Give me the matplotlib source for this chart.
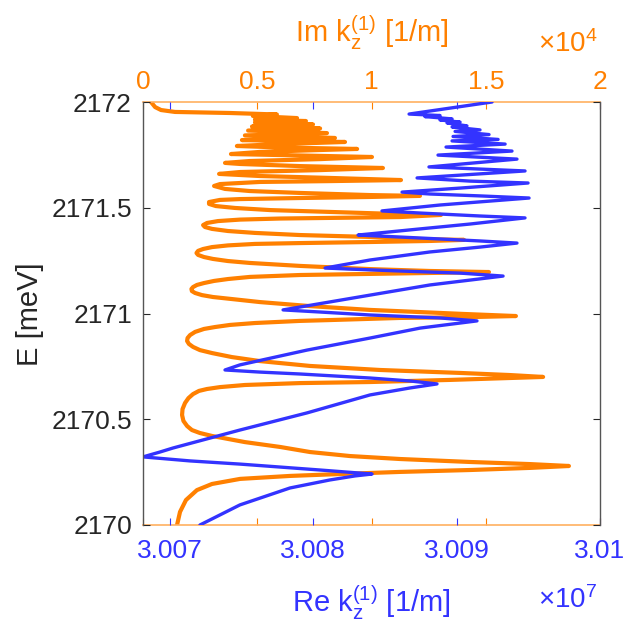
import matplotlib
matplotlib.use('Agg')
import matplotlib.pyplot as plt

# ---------------- data ----------------
# Orange curve: (E [meV], Im k_z^(1) [1e4 1/m])
orange_points = [
    (2170.000, 0.149), (2170.062, 0.162), (2170.118, 0.188), (2170.165, 0.236),
    (2170.194, 0.302), (2170.218, 0.425), (2170.232, 0.643), (2170.241, 0.862),
    (2170.251, 1.125), (2170.260, 1.431), (2170.270, 1.694), (2170.279, 1.864),
    (2170.288, 1.694), (2170.298, 1.431), (2170.312, 1.125), (2170.326, 0.906),
    (2170.345, 0.731), (2170.369, 0.600), (2170.392, 0.446), (2170.407, 0.372),
    (2170.421, 0.302), (2170.435, 0.249), (2170.449, 0.214), (2170.468, 0.193),
    (2170.492, 0.177), (2170.520, 0.171), (2170.548, 0.173), (2170.577, 0.184),
    (2170.600, 0.199), (2170.619, 0.219), (2170.634, 0.245), (2170.643, 0.280),
    (2170.652, 0.337), (2170.662, 0.446), (2170.671, 0.687), (2170.676, 0.993),
    (2170.686, 1.344), (2170.695, 1.606), (2170.700, 1.751), (2170.709, 1.606),
    (2170.719, 1.387), (2170.733, 1.037), (2170.752, 0.731), (2170.775, 0.512),
    (2170.794, 0.389), (2170.813, 0.302), (2170.827, 0.249), (2170.842, 0.219),
    (2170.856, 0.201), (2170.870, 0.193), (2170.884, 0.195), (2170.898, 0.206),
    (2170.913, 0.228), (2170.927, 0.267), (2170.936, 0.315), (2170.946, 0.381),
    (2170.955, 0.490), (2170.965, 0.687), (2170.969, 0.818), (2170.979, 1.125),
    (2170.983, 1.431), (2170.988, 1.632), (2170.998, 1.400), (2171.017, 0.993),
    (2171.035, 0.731), (2171.054, 0.512), (2171.069, 0.381), (2171.078, 0.306),
    (2171.087, 0.258), (2171.097, 0.228), (2171.106, 0.214), (2171.116, 0.212),
    (2171.125, 0.219), (2171.135, 0.236), (2171.144, 0.267), (2171.154, 0.311),
    (2171.163, 0.372), (2171.173, 0.468), (2171.182, 0.687), (2171.187, 0.993),
    (2171.191, 1.256), (2171.196, 1.514), (2171.201, 1.256), (2171.210, 0.993),
    (2171.225, 0.687), (2171.239, 0.468), (2171.248, 0.372), (2171.258, 0.306),
    (2171.267, 0.267), (2171.277, 0.241), (2171.286, 0.234), (2171.296, 0.241),
    (2171.305, 0.263), (2171.314, 0.302), (2171.322, 0.372), (2171.329, 0.490),
    (2171.333, 0.687), (2171.338, 0.993), (2171.343, 1.256), (2171.348, 1.405),
    (2171.352, 1.212), (2171.362, 0.993), (2171.371, 0.687), (2171.381, 0.490),
    (2171.390, 0.372), (2171.400, 0.302), (2171.409, 0.271), (2171.418, 0.263),
    (2171.428, 0.280), (2171.437, 0.328), (2171.444, 0.425), (2171.449, 0.600),
    (2171.452, 0.818), (2171.456, 1.125), (2171.466, 1.304), (2171.470, 1.125),
    (2171.480, 0.818), (2171.489, 0.556), (2171.499, 0.403), (2171.508, 0.319),
    (2171.518, 0.289), (2171.527, 0.289), (2171.537, 0.337), (2171.541, 0.425),
    (2171.546, 0.687), (2171.551, 0.993), (2171.556, 1.212), (2171.560, 0.993),
    (2171.570, 0.687), (2171.579, 0.468), (2171.589, 0.359), (2171.603, 0.311),
    (2171.612, 0.337), (2171.622, 0.512), (2171.626, 0.818), (2171.631, 1.129),
    (2171.641, 0.818), (2171.650, 0.512), (2171.660, 0.333), (2171.669, 0.425),
    (2171.678, 0.775), (2171.688, 1.050), (2171.697, 0.687), (2171.707, 0.425),
    (2171.712, 0.359), (2171.721, 0.468), (2171.730, 0.775), (2171.740, 1.002),
    (2171.749, 0.600), (2171.754, 0.385), (2171.764, 0.512), (2171.773, 0.775),
    (2171.778, 0.937), (2171.785, 0.600), (2171.792, 0.411), (2171.801, 0.600),
    (2171.811, 0.884), (2171.816, 0.600), (2171.820, 0.433), (2171.830, 0.840),
    (2171.842, 0.446), (2171.853, 0.805), (2171.865, 0.460), (2171.875, 0.775),
    (2171.884, 0.477), (2171.894, 0.744), (2171.903, 0.490), (2171.910, 0.713),
    (2171.917, 0.490), (2171.924, 0.674), (2171.934, 0.481), (2171.941, 0.586),
    (2171.948, 0.381), (2171.953, 0.140), (2171.962, 0.079), (2171.976, 0.053),
    (2172.000, 0.035),
]

# Blue curve: (E [meV], Re k_z^(1) [1e7 1/m])
blue_points = [
    (2170.000, 3.007209), (2170.095, 3.007488), (2170.175, 3.007837), (2170.213, 3.008116),
    (2170.232, 3.008291), (2170.241, 3.008410), (2170.260, 3.008047), (2170.274, 3.007768),
    (2170.288, 3.007488), (2170.303, 3.007140), (2170.322, 3.006812), (2170.345, 3.006930),
    (2170.364, 3.007021), (2170.449, 3.007488), (2170.530, 3.007956), (2170.615, 3.008396),
    (2170.648, 3.008675), (2170.667, 3.008863), (2170.681, 3.008675), (2170.695, 3.008396),
    (2170.714, 3.007907), (2170.723, 3.007628), (2170.733, 3.007384), (2170.757, 3.007488),
    (2170.827, 3.007956), (2170.884, 3.008396), (2170.931, 3.008745), (2170.965, 3.009142),
    (2170.979, 3.008884), (2170.993, 3.008396), (2171.007, 3.008047), (2171.017, 3.007789),
    (2171.087, 3.008396), (2171.135, 3.008814), (2171.158, 3.009093), (2171.177, 3.009324),
    (2171.191, 3.009024), (2171.201, 3.008605), (2171.210, 3.008256), (2171.215, 3.008082),
    (2171.253, 3.008396), (2171.291, 3.008814), (2171.314, 3.009163), (2171.333, 3.009421),
    (2171.343, 3.009163), (2171.357, 3.008745), (2171.366, 3.008465), (2171.371, 3.008312),
    (2171.400, 3.008745), (2171.423, 3.009093), (2171.452, 3.009477), (2171.461, 3.009163),
    (2171.475, 3.008745), (2171.485, 3.008479), (2171.513, 3.008884), (2171.546, 3.009505),
    (2171.556, 3.009163), (2171.565, 3.008814), (2171.574, 3.008619), (2171.593, 3.009024),
    (2171.617, 3.009498), (2171.626, 3.009093), (2171.641, 3.008724), (2171.674, 3.009477),
    (2171.693, 3.008807), (2171.730, 3.009421), (2171.749, 3.008870), (2171.768, 3.009386),
    (2171.787, 3.008926), (2171.801, 3.009338), (2171.816, 3.008968), (2171.823, 3.009289),
    (2171.837, 3.008975), (2171.846, 3.009226), (2171.861, 3.008989), (2171.868, 3.009163),
    (2171.882, 3.008968), (2171.887, 3.009072), (2171.901, 3.008933), (2171.905, 3.009024),
    (2171.915, 3.008884), (2171.920, 3.008968), (2171.931, 3.008779), (2171.936, 3.008884),
    (2171.943, 3.008668), (2172.000, 3.009247),
]

re_ticks = [3.007, 3.008, 3.009, 3.01]
re_ticklabels = ['3.007', '3.008', '3.009', '3.01']
im_ticks = [0, 0.5, 1, 1.5, 2]
im_ticklabels = ['0', '0.5', '1', '1.5', '2']
e_ticks = [2170, 2170.5, 2171, 2171.5, 2172]
e_ticklabels = ['2170', '2170.5', '2171', '2171.5', '2172']

orange_E = [p[0] for p in orange_points]
orange_im = [p[1] for p in orange_points]
blue_E = [p[0] for p in blue_points]
blue_re = [p[1] for p in blue_points]

# ---------------- style ----------------
plt.rcParams['font.family'] = ['Liberation Sans', 'DejaVu Sans']
plt.rcParams['mathtext.fontset'] = 'custom'
plt.rcParams['mathtext.rm'] = 'Liberation Sans'
plt.rcParams['mathtext.it'] = 'Liberation Sans:italic'
plt.rcParams['mathtext.bf'] = 'Liberation Sans:bold'

BLUE = '#3333FF'
ORANGE = '#FF8000'
DARK = '#262626'
FS = 19

W, H = 636, 628
fig = plt.figure(figsize=(W / 100, H / 100), dpi=100)
L, R, T, B = 143, 600, 102, 525
ax1 = fig.add_axes([L / W, 1 - B / H, (R - L) / W, (B - T) / H])
ax2 = ax1.twiny()
ax1.set_zorder(ax2.get_zorder() + 1)
ax1.patch.set_visible(False)

ax2.plot(orange_im, orange_E, color=ORANGE, lw=3.0, solid_joinstyle='round',
         solid_capstyle='round')
ax1.plot(blue_re, blue_E, color=BLUE, lw=2.4, solid_joinstyle='round',
         solid_capstyle='round')

ax1.set_xlim(3.006812, 3.01)
ax1.set_ylim(2170, 2172)
ax2.set_xlim(0, 2)

ax1.set_xticks(re_ticks)
ax1.set_xticklabels(re_ticklabels)
ax2.set_xticks(im_ticks)
ax2.set_xticklabels(im_ticklabels)
ax1.set_yticks(e_ticks)
ax1.set_yticklabels(e_ticklabels)

ax1.tick_params(axis='x', which='both', direction='in', top=True, bottom=True,
                labeltop=False, labelbottom=True, color=BLUE, labelcolor=BLUE,
                labelsize=FS, length=5, width=0.8, pad=10)
ax2.tick_params(axis='x', which='both', direction='in', top=True, bottom=True,
                labeltop=True, labelbottom=False, color=ORANGE, labelcolor=ORANGE,
                labelsize=FS, length=5, width=0.8, pad=6)
ax1.tick_params(axis='y', direction='in', left=True, right=True, labelleft=True,
                labelright=False, color=DARK, labelcolor=DARK, labelsize=FS,
                length=5, width=0.8, pad=8)

for s in ['top', 'bottom']:
    ax1.spines[s].set_visible(False)
    ax2.spines[s].set_color('#FFB060')
    ax2.spines[s].set_linewidth(1.2)
for s in ['left', 'right']:
    ax2.spines[s].set_visible(False)
    ax1.spines[s].set_color('#555555')
    ax1.spines[s].set_linewidth(1.0)

# labels
fig.text((L + R) / 2 / W, 1 - 612 / H, r'Re k$_\mathregular{z}^\mathregular{(1)}$ [1/m]',
         color=BLUE, fontsize=21, ha='center', va='baseline')
fig.text((L + R) / 2 / W, 1 - 42 / H, r'Im k$_\mathregular{z}^\mathregular{(1)}$ [1/m]',
         color=ORANGE, fontsize=21, ha='center', va='baseline')
fig.text(30 / W, 1 - 314 / H, 'E [meV]', color=DARK, fontsize=21, rotation=90,
         ha='center', va='center')
fig.text(538 / W, 1 - 608 / H, r'$\times\mathregular{10^{7}}$', color=BLUE,
         fontsize=20, ha='left', va='baseline')
fig.text(538 / W, 1 - 52 / H, r'$\times\mathregular{10^{4}}$', color=ORANGE,
         fontsize=20, ha='left', va='baseline')

fig.savefig('out.png', dpi=100, facecolor='white')
